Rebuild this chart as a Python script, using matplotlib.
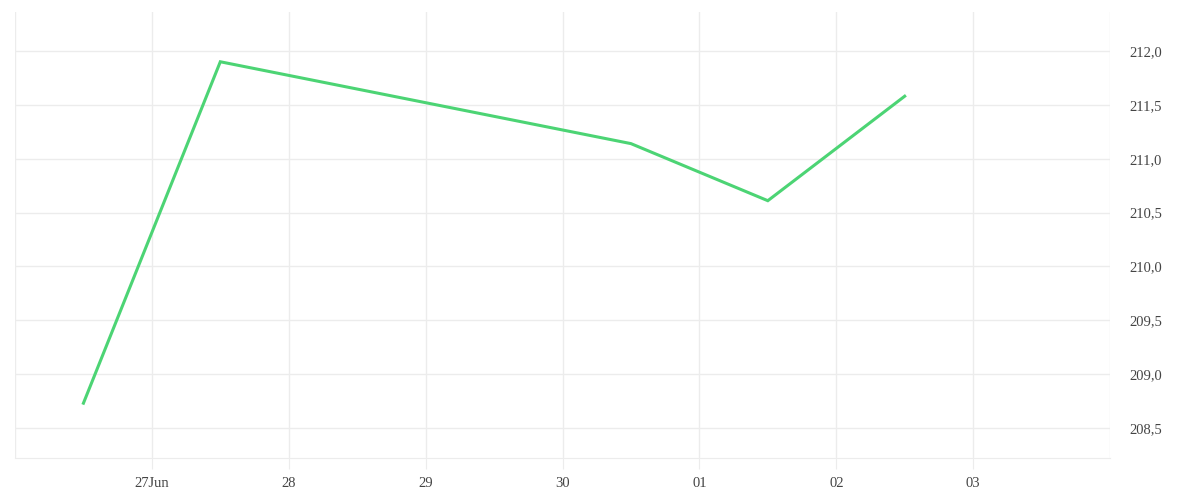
import numpy as np
import pandas as pd
import matplotlib.pyplot as plt
import matplotlib.dates as mdates
from matplotlib.ticker import FuncFormatter

# data
dates = ["2024-06-26 12:00", "2024-06-27 12:00", "2024-06-30 12:00",
         "2024-07-01 12:00", "2024-07-02 12:00"]
values = [208.73, 211.90, 211.14, 210.61, 211.58]
tick_days = ["2024-06-27", "2024-06-28", "2024-06-29", "2024-06-30",
             "2024-07-01", "2024-07-02", "2024-07-03"]
tick_labels = ["27Jun", "28", "29", "30", "01", "02", "03"]
y_ticks = [208.5, 209.0, 209.5, 210.0, 210.5, 211.0, 211.5, 212.0]

plt.rcParams['font.family'] = ['Liberation Serif', 'DejaVu Serif']

x = pd.to_datetime(dates)
fig = plt.figure(figsize=(12, 5), dpi=100)
ax = fig.add_axes([0.0125, 0.084, 0.9125, 0.892])

grid_c = '#ececec'
ax.plot(x, values, color='#4cd474', linewidth=2.2, solid_joinstyle='miter')

ax.set_xlim(pd.Timestamp("2024-06-26"), pd.Timestamp("2024-07-04"))
ax.set_ylim(208.221, 212.362)

# vertical grid at each day, including the edges
for d in pd.date_range("2024-06-26", "2024-07-04"):
    ax.axvline(d, color=grid_c, linewidth=1, zorder=0)
for yv in y_ticks:
    ax.axhline(yv, color=grid_c, linewidth=1, zorder=0)

ax.set_xticks(pd.to_datetime(tick_days))
ax.set_xticklabels(tick_labels)
ax.set_yticks(y_ticks)
ax.yaxis.set_major_formatter(FuncFormatter(lambda v, p: f"{v:.1f}".replace('.', ',')))
ax.yaxis.tick_right()

ax.tick_params(axis='x', length=8, color=grid_c, pad=6, labelsize=10.5, labelcolor='#444444')
ax.tick_params(axis='y', length=0, pad=14, labelsize=10.5, labelcolor='#444444')

for s in ['top', 'left', 'right']:
    ax.spines[s].set_visible(False)
ax.spines['bottom'].set_color(grid_c)

fig.savefig('out.png', dpi=100, facecolor='white')
